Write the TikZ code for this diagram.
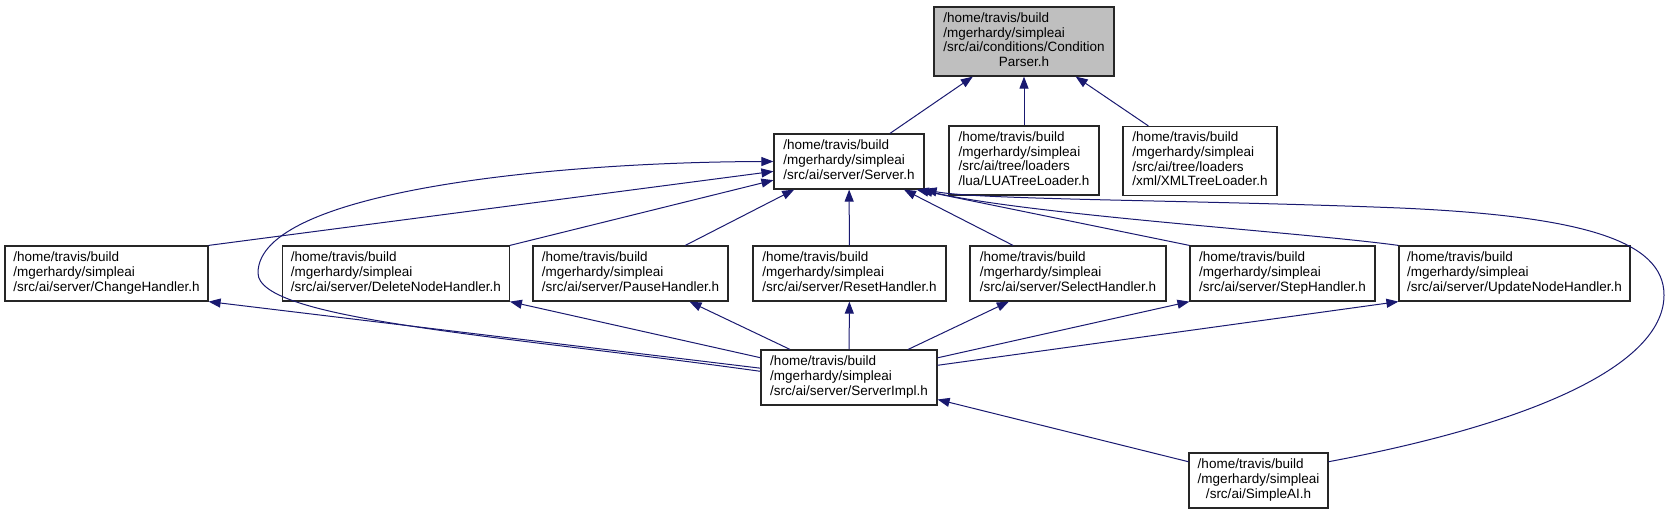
\documentclass[tikz,border=0pt]{standalone}
\usepackage{fontspec}
\setmainfont{Liberation Sans}
\usepackage{xcolor}
\usepackage{tikz}
\usetikzlibrary{arrows.meta, positioning, calc}
\definecolor{depblue}{RGB}{25,25,112}
\definecolor{headgray}{RGB}{191,191,191}
\tikzstyle{filebox} = [draw=black!85, line width=1.2pt, rectangle, inner sep=0pt, minimum height=55pt, font=\fontsize{13.5}{14.7}\selectfont]
\tikzstyle{deparrow} = [depblue, line width=1pt, {Triangle[length=12pt,width=9pt]}-]
\newcommand{\fpath}[1]{\begin{tabular}{@{}l@{}}#1\end{tabular}}

\begin{document}
\begin{tikzpicture}[x=1pt, y=-1pt]
    \useasboundingbox (0,0) rectangle (1670,515);

    % Cabecera
    \node[filebox, fill=headgray, minimum width=180pt, minimum height=69pt] (cp) at (1024,41.5)
        {\fpath{/home/travis/build\\/mgerhardy/simpleai\\/src/ai/conditions/Condition\\\multicolumn{1}{@{}c@{}}{Parser.h}}};

    % Fila 1
    \node[filebox, minimum width=150pt] (srv) at (849,161.5)
        {\fpath{/home/travis/build\\/mgerhardy/simpleai\\/src/ai/server/Server.h}};
    \node[filebox, minimum width=150pt, minimum height=69pt] (lua) at (1024,160.5)
        {\fpath{/home/travis/build\\/mgerhardy/simpleai\\/src/ai/tree/loaders\\/lua/LUATreeLoader.h}};
    \node[filebox, minimum width=154pt, minimum height=69pt] (xml) at (1200,161)
        {\fpath{/home/travis/build\\/mgerhardy/simpleai\\/src/ai/tree/loaders\\/xml/XMLTreeLoader.h}};

    % Fila 2 (handlers)
    \node[filebox, minimum width=203pt] (chg) at (106.5,273.5)
        {\fpath{/home/travis/build\\/mgerhardy/simpleai\\/src/ai/server/ChangeHandler.h}};
    \node[filebox, minimum width=227pt] (del) at (395.8,273.5)
        {\fpath{/home/travis/build\\/mgerhardy/simpleai\\/src/ai/server/DeleteNodeHandler.h}};
    \node[filebox, minimum width=195pt] (pau) at (630.5,273.5)
        {\fpath{/home/travis/build\\/mgerhardy/simpleai\\/src/ai/server/PauseHandler.h}};
    \node[filebox, minimum width=193pt] (rst) at (849.5,273.5)
        {\fpath{/home/travis/build\\/mgerhardy/simpleai\\/src/ai/server/ResetHandler.h}};
    \node[filebox, minimum width=196pt] (sel) at (1068,273.5)
        {\fpath{/home/travis/build\\/mgerhardy/simpleai\\/src/ai/server/SelectHandler.h}};
    \node[filebox, minimum width=185pt] (stp) at (1282.5,273.5)
        {\fpath{/home/travis/build\\/mgerhardy/simpleai\\/src/ai/server/StepHandler.h}};
    \node[filebox, minimum width=231pt] (upd) at (1514.5,273.5)
        {\fpath{/home/travis/build\\/mgerhardy/simpleai\\/src/ai/server/UpdateNodeHandler.h}};

    % Fila 3 y 4
    \node[filebox, minimum width=176pt] (imp) at (849,377.5)
        {\fpath{/home/travis/build\\/mgerhardy/simpleai\\/src/ai/server/ServerImpl.h}};
    \node[filebox, minimum width=139pt] (sai) at (1258.5,480.5)
        {\fpath{/home/travis/build\\/mgerhardy/simpleai\\\multicolumn{1}{@{}c@{}}{/src/ai/SimpleAI.h}}};

    % Puntos de paso
    \coordinate (lbend) at (258,273);
    \coordinate (rtop) at (1400,208);
    \coordinate (rbend) at (1664,295);

    % Hacia ConditionParser
    \draw[deparrow] (cp) -- (srv);
    \draw[deparrow] (cp) -- (lua);
    \draw[deparrow] (cp) -- (xml);

    % Hacia Server
    \draw[deparrow] (srv) -- (chg.north east);
    \draw[deparrow] (srv) -- (del.north east);
    \draw[deparrow] (srv) -- (pau);
    \draw[deparrow] (srv) -- (rst);
    \draw[deparrow] (srv) -- (sel);
    \draw[deparrow] ([xshift=-8pt]srv.south east) -- (stp.north west);
    \draw[deparrow] ([xshift=-4pt]srv.south east) .. controls (1030,215) and (1300,232) .. (upd.north west);
    \draw[deparrow] (srv.south east) .. controls (980,200) and (1200,200) .. (rtop)
        .. controls (1580,216) and (1664,240) .. (rbend)
        .. controls (1664,360) and (1550,420) .. (sai.15);
    \draw[deparrow] (srv.west) .. controls (560,162) and (258,190) .. (lbend)
        .. controls (258,320) and (500,335) .. (imp.176);

    % Hacia los handlers
    \draw[deparrow] (chg.south east) -- (imp.174);
    \draw[deparrow] (del.south east) -- (imp);
    \draw[deparrow] (pau) -- (imp);
    \draw[deparrow] (rst) -- (imp);
    \draw[deparrow] (sel) -- (imp);
    \draw[deparrow] (stp.south west) -- (imp);
    \draw[deparrow] (upd.south west) -- (imp);

    % Hacia ServerImpl
    \draw[deparrow] (imp) -- (sai.165);
\end{tikzpicture}
\end{document}
